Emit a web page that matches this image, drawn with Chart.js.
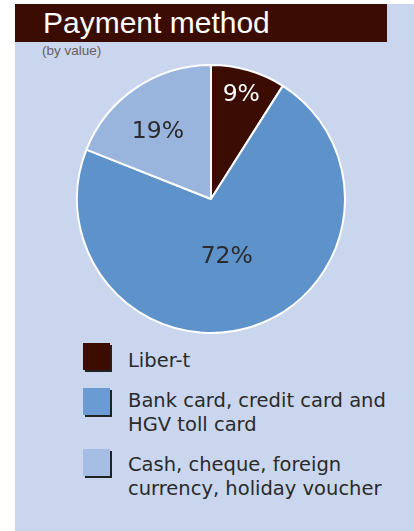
<!DOCTYPE html>
<html>
<head>
<meta charset="utf-8">
<script src="https://cdn.jsdelivr.net/npm/chart.js@4"></script>
<style>
  html, body { margin:0; padding:0; background:#fff; }
  body { width:414px; height:531px; position:relative; overflow:hidden; font-family:'DejaVu Sans', sans-serif; }
  #panel { position:absolute; left:15px; top:4px; width:399px; height:527px; background:#c9d6ed; }
  #title { position:absolute; left:0; top:0; width:372px; height:38px; background:#3b0d02; color:#fff;
           font-family:'Liberation Sans', sans-serif; font-size:30px; line-height:38px; padding-left:28px; box-sizing:border-box; }
  #sub { position:absolute; left:27px; top:39px; font-family:'Liberation Sans', sans-serif; font-size:13.5px; color:#6e5c5c; }
  #pie { position:absolute; left:61px; top:60px; width:270px; height:270px; }
  #legend { position:absolute; left:68px; top:345px; width:330px; }
  .item { position:relative; padding-left:45px; margin-bottom:16px; font-size:19.5px; line-height:24px; color:#2a2a2a; }
  .sw { position:absolute; left:0; width:27px; height:27px; box-shadow:2px 2px 0 #222; }
</style>
</head>
<body>
<div id="panel">
  <div id="title">Payment method</div>
  <div id="sub">(by value)</div>
  <div id="pie"><canvas id="c"></canvas></div>
  <div id="legend"></div>
</div>
<script>
'use strict';

const labels = ['Liber-t', 'Bank card, credit card and\nHGV toll card', 'Cash, cheque, foreign\ncurrency, holiday voucher'];
const values = [9, 72, 19];
const sliceColors = ['#3b0d02', '#5d92cb', '#99b5de'];
const swatchColors = ['#3c0c00', '#6a9bd3', '#a6bee3'];
const labelColors = ['#ffffff', '#2b2b2b', '#2b2b2b'];

// legend built from the same arrays
const swOffsets = [-6, -1, -4];
document.getElementById('legend').innerHTML = labels.map((l, i) =>
  `<div class="item"><span class="sw" style="top:${swOffsets[i]}px;background:${swatchColors[i]}"></span>${l.replace('\n', '<br>')}</div>`
).join('');

const sliceLabels = {
  id: 'sliceLabels',
  afterDatasetsDraw(chart, args, opts) {
    const { ctx } = chart;
    const meta = chart.getDatasetMeta(0);
    ctx.save();
    ctx.font = '23.5px "DejaVu Sans", sans-serif';
    ctx.textAlign = 'center';
    ctx.textBaseline = 'middle';
    meta.data.forEach((arc, i) => {
      const p = arc.getProps(['x', 'y', 'startAngle', 'endAngle', 'outerRadius'], true);
      const a = (p.startAngle + p.endAngle) / 2 + (opts.shift[i] || 0);
      const r = p.outerRadius * opts.radius[i];
      ctx.fillStyle = labelColors[i];
      ctx.fillText(values[i] + '%', p.x + Math.cos(a) * r, p.y + Math.sin(a) * r);
    });
    ctx.restore();
  }
};

new Chart(document.getElementById('c'), {
  type: 'pie',
  data: {
    labels,
    datasets: [{ data: values, backgroundColor: sliceColors, borderColor: '#ffffff', borderWidth: 2 }]
  },
  options: {
    responsive: true, maintainAspectRatio: false, animation: false,
    layout: { padding: 0 },
    plugins: {
      legend: { display: false },
      tooltip: { enabled: false },
      sliceLabels: { radius: [0.81, 0.45, 0.64], shift: [0, 0.05, -0.07] }
    }
  },
  plugins: [sliceLabels]
});
</script>
</body>
</html>
